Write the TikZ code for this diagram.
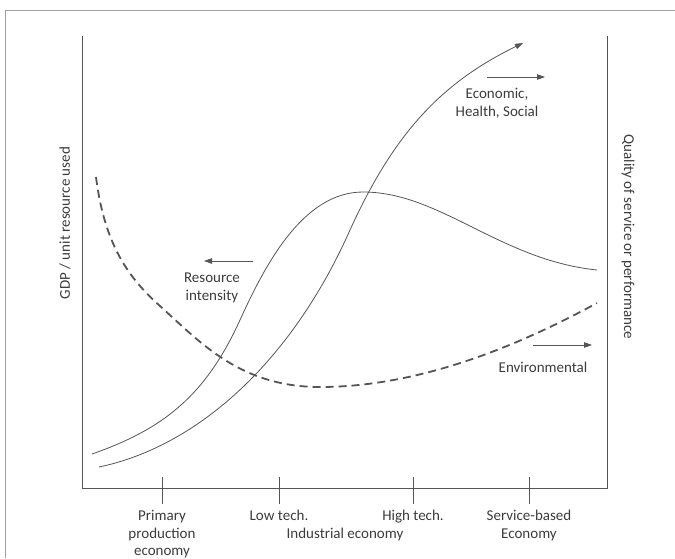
\documentclass[tikz,border=0pt]{standalone}
\usepackage{fontspec}
\setmainfont{Carlito}
\usetikzlibrary{arrows.meta}
\definecolor{txt}{HTML}{3C3C3C}
\definecolor{ln}{HTML}{555555}
\definecolor{frm}{HTML}{A0A0A0}
\begin{document}
\begin{tikzpicture}[x=1pt,y=-1pt,
  lbl/.style={inner sep=0pt, anchor=base, text=txt, font=\fontsize{15}{18}\selectfont},
  rlbl/.style={inner sep=0pt, text=txt, font=\fontsize{15}{18}\selectfont},
  axis/.style={draw=ln, line width=0.9pt},
  curve/.style={draw=ln, line width=0.8pt},
  dcurve/.style={draw=ln, line width=1.8pt, dash pattern=on 8pt off 5pt},
  arr/.style={draw=ln, line width=0.8pt, -{Triangle[length=8pt,width=5.5pt]}}
]
\useasboundingbox (0,0) rectangle (675,558);
% outer frame
\draw[draw=frm, line width=0.9pt] (5,558) -- (5,10) -- (675,10);
% axes
\coordinate (tl) at (82,36);
\coordinate (bl) at (82,488);
\coordinate (br) at (607,488);
\coordinate (tr) at (607,36);
\draw[axis] (tl) -- (bl) -- (br) -- (tr);
% ticks
\foreach \x/\n in {162/t1,279/t2,413/t3,529/t4}{
  \coordinate (\n a) at (\x,477);
  \coordinate (\n b) at (\x,504);
  \draw[axis] (\n a) -- (\n b);
}
% Economic, Health, Social curve
\coordinate (s0) at (99,467);
\coordinate (s1) at (350,230);
\coordinate (s2) at (523,43);
\draw[curve, -{Triangle[length=8pt,width=5.5pt]}]
  (s0) .. controls (195,447) and (290,365) .. (s1)
       .. controls (395,131) and (443,82) .. (s2);
% Resource intensity hump
\coordinate (h0) at (92,454);
\coordinate (h1) at (240,320);
\coordinate (h2) at (363,192);
\coordinate (h3) at (597,270);
\draw[curve]
  (h0) .. controls (162,429.5) and (205,397) .. (h1)
       .. controls (265,265) and (303,192) .. (h2)
       .. controls (440,192) and (500,260) .. (h3);
% Environmental dashed
\coordinate (d0) at (96,177);
\coordinate (d1) at (160,306);
\coordinate (d2) at (320,387);
\coordinate (d3) at (597,303);
\draw[dcurve]
  (d0) .. controls (104,240) and (125,275) .. (d1)
       .. controls (200,342) and (240,387) .. (d2)
       .. controls (420,387) and (520,345) .. (d3);
% direction arrows
\coordinate (ra) at (253,261); \coordinate (rb) at (204,261);
\draw[arr] (ra) -- (rb);
\coordinate (ea) at (487,77); \coordinate (eb) at (545,77);
\draw[arr] (ea) -- (eb);
\coordinate (va) at (533,345); \coordinate (vb) at (592,345);
\draw[arr] (va) -- (vb);
% curve labels
\node[lbl] (res1) at (212,282) {Resource};
\node[lbl] (res2) at (212,300) {intensity};
\node[lbl] (eco1) at (497,98) {Economic,};
\node[lbl] (eco2) at (497,116) {Health, Social};
\node[lbl] (env) at (543,372) {Environmental};
% x labels
\node[lbl] (p1) at (162,520) {Primary};
\node[lbl] (p2) at (162,538) {production};
\node[lbl] (p3) at (162,555) {economy};
\node[lbl] (lt) at (279,520) {Low tech.};
\node[lbl] (ht) at (413,520) {High tech.};
\node[lbl] (ie) at (345,538) {Industrial economy};
\node[lbl] (s1l) at (529,520) {Service-based};
\node[lbl] (s2l) at (529,538) {Economy};
% axis titles
\node[rlbl, rotate=90] (yl) at (65,223) {GDP / unit resource used};
\node[rlbl, rotate=-90] (yr) at (628,237) {Quality of service or performance};
\end{tikzpicture}
\end{document}
